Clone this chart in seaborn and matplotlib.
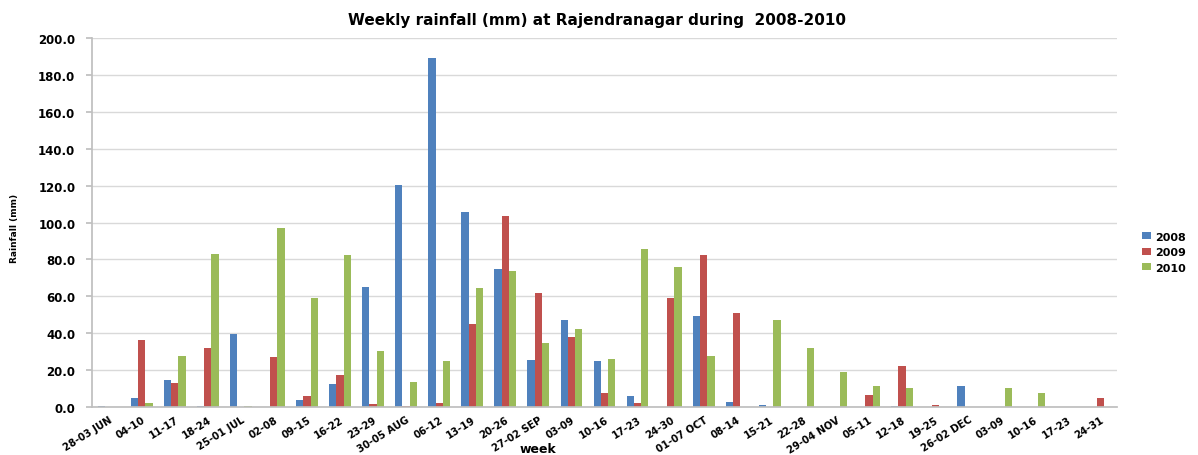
import matplotlib
matplotlib.use("Agg")
import matplotlib.pyplot as plt
import seaborn as sns
import pandas as pd

weeks = ["28-03 JUN", "04-10", "11-17", "18-24", "25-01 JUL", "02-08", "09-15", "16-22",
         "23-29", "30-05 AUG", "06-12", "13-19", "20-26", "27-02 SEP", "03-09", "10-16",
         "17-23", "24-30", "01-07 OCT", "08-14", "15-21", "22-28", "29-04 NOV", "05-11",
         "12-18", "19-25", "26-02 DEC", "03-09", "10-16", "17-23", "24-31"]
rain_2008 = [0.8, 4.9, 14.6, 0.5, 39.4, 0.0, 3.8, 12.5, 65.2, 120.3, 189.0, 105.7, 74.8, 25.8,
             47.2, 24.9, 6.1, 0.0, 49.5, 2.9, 0.9, 0.0, 0.0, 0.0, 0.6, 0.0, 11.4, 0.0, 0.0, 0.0, 0.0]
rain_2009 = [0.0, 36.3, 12.8, 32.3, 0.0, 26.9, 6.1, 17.5, 1.6, 0.6, 2.4, 44.8, 103.3, 62.0,
             38.1, 7.8, 2.0, 58.9, 82.2, 50.8, 0.0, 0.0, 0.0, 6.5, 22.2, 0.9, 0.0, 0.0, 0.0, 0.0, 4.7]
rain_2010 = [0.0, 2.2, 27.8, 82.9, 0.8, 97.0, 59.1, 82.4, 30.5, 13.4, 25.1, 64.5, 73.5, 34.9,
             42.1, 26.2, 85.5, 75.7, 27.6, 0.0, 47.0, 32.0, 18.8, 11.6, 10.3, 0.0, 0.0, 10.3, 7.4, 0.0, 0.0]
years = ["2008", "2009", "2010"]

pos = list(range(len(weeks)))
rows = []
for yr, vals in zip(years, [rain_2008, rain_2009, rain_2010]):
    for p, v in zip(pos, vals):
        rows.append({"pos": p, "year": yr, "rain": v})
df = pd.DataFrame(rows)

sns.set_theme(style="white")
plt.rcParams['font.family'] = ['DejaVu Sans']
plt.rcParams['text.color'] = 'black'
plt.rcParams['xtick.color'] = 'black'
plt.rcParams['ytick.color'] = 'black'

fig = plt.figure(figsize=(11.98, 4.56), dpi=100)
ax = fig.add_axes([0.0768, 0.105, 0.8556, 0.8095])

palette = {"2008": "#4F81BD", "2009": "#C0504D", "2010": "#9BBB59"}
sns.barplot(data=df, x="pos", y="rain", hue="year", palette=palette, ax=ax,
            width=0.66, dodge=True, saturation=1, legend=True, linewidth=0)

ax.set_ylim(0, 200)
ax.set_yticks(range(0, 201, 20))
ax.set_yticklabels([f"{v:.1f}" for v in range(0, 201, 20)], fontsize=8.5, fontweight="bold")
ax.yaxis.grid(True, color="#d9d9d9", linewidth=1)
ax.set_axisbelow(True)
ax.set_xlim(-0.5, len(weeks) - 0.5)
ax.set_xticks(pos)
ax.set_xticklabels(weeks, rotation=32, ha="right", rotation_mode="anchor",
                   fontsize=7.2, fontweight="bold")
ax.tick_params(axis="x", length=0, pad=5)
ax.tick_params(axis="y", length=4, color="#bfbfbf", left=True, pad=8)
for s in ["top", "right"]:
    ax.spines[s].set_visible(False)
ax.spines["left"].set_color("#bfbfbf")
ax.spines["bottom"].set_color("#bfbfbf")
ax.set_xlabel("")
ax.set_ylabel("")

fig.text(0.0125, 0.5, "Rainfall (mm)", rotation=90, fontsize=6.5, fontweight="bold",
         ha="center", va="center")
fig.text(0.449, 0.0, "week", fontsize=9, fontweight="bold", ha="center", va="bottom")
fig.text(0.498, 0.955, "Weekly rainfall (mm) at Rajendranagar during  2008-2010",
         fontsize=11, fontweight="bold", ha="center", va="center")

handles, labels = ax.get_legend_handles_labels()
ax.get_legend().remove()
fig.legend(handles, labels, loc="center left", bbox_to_anchor=(0.945, 0.445), frameon=False,
           prop={"size": 8, "weight": "bold"}, handlelength=0.8, handleheight=0.6,
           handletextpad=0.4, labelspacing=0.5)

fig.savefig("out.png", dpi=100)
